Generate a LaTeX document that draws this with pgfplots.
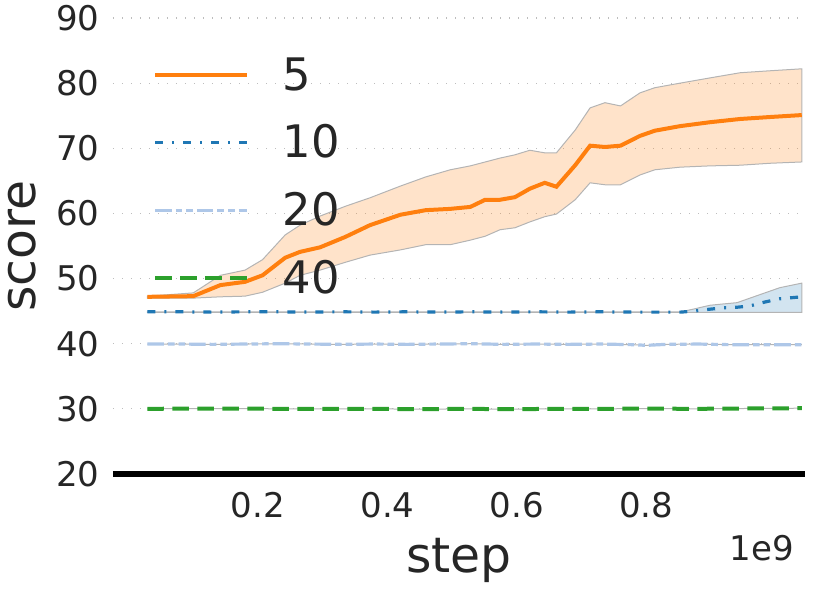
\documentclass[border=0pt]{standalone}
\usepackage{fontspec}
\setmainfont{DejaVu Sans}
\usepackage{pgfplots}
\pgfplotsset{compat=1.18}
\usepackage{pgfplotstable}
\usepgfplotslibrary{fillbetween}

\definecolor{c5}{HTML}{FF7F0E}
\definecolor{c10}{HTML}{1F77B4}
\definecolor{c20}{HTML}{AEC7E8}
\definecolor{c40}{HTML}{2CA02C}
\definecolor{txt}{HTML}{262626}
\definecolor{gridc}{HTML}{BDBDBD}
\definecolor{edgec}{HTML}{B4B4B4}

% step (1e9), mean, upper, lower
\pgfplotstableread{
x m u l
0.029 47.2 47.3 47.0
0.100 47.3 47.8 47.0
0.142 49.0 50.5 47.2
0.180 49.5 51.3 47.3
0.207 50.5 52.9 47.9
0.242 53.2 56.7 49.3
0.265 54.1 58.2 50.5
0.296 54.8 59.6 51.3
0.335 56.4 61.1 52.5
0.373 58.2 62.4 53.6
0.420 59.8 64.2 54.4
0.459 60.5 65.6 55.2
0.497 60.7 66.7 55.2
0.528 61.0 67.3 55.9
0.551 62.1 67.9 56.5
0.574 62.1 68.5 57.5
0.597 62.5 69.0 57.8
0.620 63.8 69.7 58.7
0.643 64.7 69.3 59.5
0.661 64.1 69.3 59.9
0.690 67.4 72.8 62.1
0.713 70.4 76.2 64.7
0.736 70.2 77.0 64.4
0.760 70.4 76.5 64.4
0.790 71.9 78.5 65.9
0.813 72.7 79.3 66.7
0.852 73.4 80.0 67.1
0.898 74.0 80.8 67.3
0.945 74.5 81.6 67.4
0.991 74.8 81.9 67.7
1.040 75.1 82.2 67.9
}\tfive

\pgfplotstableread{
x m u l
0.029 44.90 44.90 44.80
0.080 44.90 44.90 44.80
0.130 44.85 44.90 44.80
0.180 44.90 44.90 44.80
0.230 44.90 44.90 44.80
0.280 44.85 44.90 44.80
0.330 44.90 44.90 44.80
0.380 44.85 44.90 44.80
0.430 44.90 44.90 44.80
0.480 44.85 44.90 44.80
0.530 44.90 44.90 44.80
0.580 44.85 44.90 44.80
0.630 44.90 44.90 44.80
0.680 44.85 44.90 44.80
0.730 44.90 44.90 44.80
0.780 44.85 44.90 44.80
0.853 44.85 44.90 44.80
0.872 45.00 45.30 44.80
0.898 45.30 45.90 44.80
0.918 45.50 46.10 44.80
0.940 45.60 46.30 44.80
0.960 45.80 47.00 44.80
0.983 46.40 47.80 44.80
1.006 46.90 48.60 44.80
1.040 47.20 49.30 44.80
}\tten

\pgfplotstableread{
x m
0.029 39.95
0.080 39.95
0.130 39.90
0.180 39.95
0.230 40.00
0.280 39.95
0.330 39.90
0.380 39.95
0.430 39.90
0.480 39.95
0.530 40.00
0.580 39.90
0.630 39.95
0.680 39.90
0.730 39.95
0.780 39.85
0.800 39.75
0.830 39.90
0.880 39.95
0.930 39.85
0.980 39.85
1.040 39.85
}\ttwenty

\pgfplotstableread{
x m
0.029 30.00
0.100 30.05
0.170 30.05
0.240 30.00
0.310 30.00
0.380 30.00
0.450 29.95
0.520 30.00
0.590 29.95
0.660 30.00
0.730 30.00
0.800 30.05
0.870 30.00
0.940 30.05
1.040 30.10
}\tforty

\begin{document}
\begin{tikzpicture}
\begin{axis}[
  at={(0pt,0pt)}, anchor=south west,
  scale only axis, width=346pt, height=228pt,
  xmin=-0.024, xmax=1.045, ymin=20, ymax=90,
  xtick={0.2,0.4,0.6,0.8},
  xticklabels={0.2,0.4,0.6,0.8},
  ytick={20,30,...,90},
  axis x line*=bottom, axis y line*=left,
  x axis line style={line width=3.3pt, black},
  y axis line style={draw=none},
  major tick length=0pt,
  ymajorgrids,
  grid style={gridc, line width=0.6pt, dash pattern=on 0.7pt off 3.8pt},
  tick label style={font=\fontsize{17}{20}\selectfont, text=txt},
  /pgf/number format/assume math mode=true,
  xticklabel style={anchor=north, inner sep=0pt, yshift=-9pt},
  yticklabel style={anchor=east, inner sep=0pt, xshift=-6.5pt},
  xlabel={step},
  xlabel style={at={(axis description cs:0.5,-0.2149)}, anchor=base,
    font=\fontsize{24.4}{28}\selectfont, text=txt},
  ylabel={score},
  ylabel style={at={(axis description cs:-0.1127,0.5)}, anchor=base,
    font=\fontsize{24.4}{28}\selectfont, text=txt},
  legend style={at={(0,1)}, anchor=north west, xshift=20pt, yshift=-19.8pt,
    draw=none, fill=none, inner sep=0pt, outer sep=0pt,
    row sep=15.7pt, column sep=17pt,
    font=\fontsize{22.4}{26}\selectfont, text=txt,
    nodes={inner sep=0pt}},
  legend cell align=left,
  legend image code/.code={\draw[#1] (0pt,0pt) -- (46pt,0pt);},
]
% bands
\addplot[draw=none, name path=fu, forget plot] table[x=x,y=u]{\tfive};
\addplot[draw=none, name path=fl, forget plot] table[x=x,y=l]{\tfive};
\addplot[fill=c5, fill opacity=0.22, draw=edgec, line width=0.5pt, forget plot]
  fill between[of=fu and fl];
\addplot[draw=none, name path=tu, forget plot] table[x=x,y=u]{\tten};
\addplot[draw=none, name path=tl, forget plot] table[x=x,y=l]{\tten};
\addplot[fill=c10, fill opacity=0.2, draw=edgec, line width=0.5pt, forget plot]
  fill between[of=tu and tl];
\addplot[edgec, line width=0.5pt, forget plot] table[x=x,y=m]{\ttwenty};
\addplot[edgec, line width=0.5pt, forget plot] table[x=x,y=m]{\tforty};

% means
\addplot[c5, line width=2pt] table[x=x,y=m]{\tfive};
\addlegendentry{5}
\addplot[c10, line width=1.6pt, dash pattern=on 4pt off 4.5pt on 1pt off 4.5pt]
  table[x=x,y=m]{\tten};
\addlegendentry{10}
\addplot[c20, line width=1.6pt,
  dash pattern=on 8.3pt off 2pt on 3.3pt off 2pt on 3.3pt off 2pt]
  table[x=x,y=m]{\ttwenty};
\addlegendentry{20}
\addplot[c40, line width=2pt, dash pattern=on 8.3pt off 4.2pt]
  table[x=x,y=m]{\tforty};
\addlegendentry{40}
\end{axis}
\node[anchor=base east, font=\fontsize{17}{20}\selectfont, text=txt]
  at (344pt,-43pt) {1e9};
\path (-56.5pt,-53pt) rectangle (359pt,237pt);
\end{tikzpicture}
\end{document}
